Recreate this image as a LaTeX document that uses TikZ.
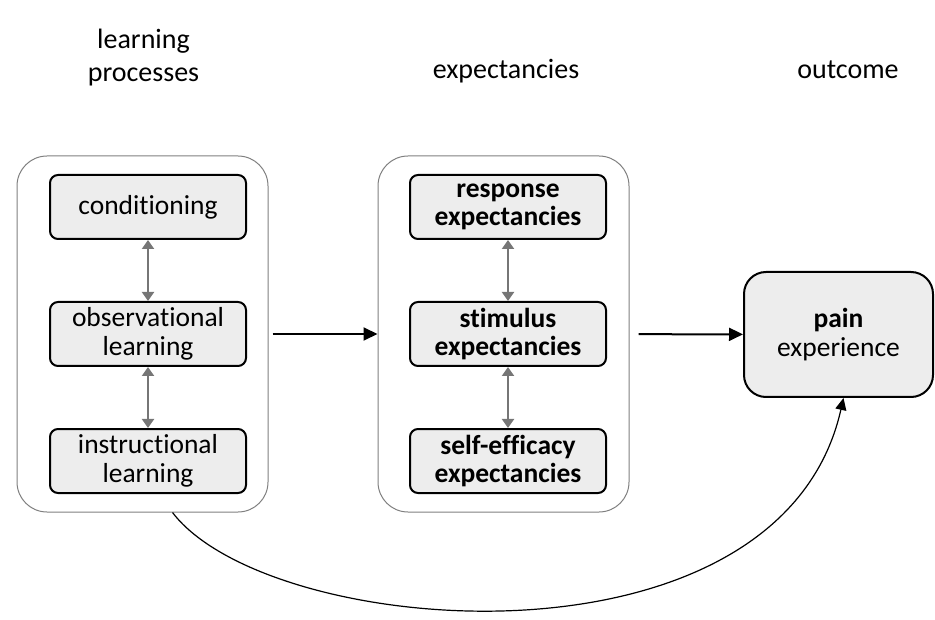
\documentclass[tikz,border=0pt]{standalone}
\usepackage{fontspec}
\setmainfont{Carlito}[Ligatures=NoCommon]
\usetikzlibrary{arrows.meta}

\definecolor{boxfill}{HTML}{EDEDED}
\definecolor{framegray}{HTML}{7F7F7F}
\definecolor{linkgray}{HTML}{767676}

\begin{document}
\begin{tikzpicture}[x=1pt,y=-1pt]
		\tikzset{
			group/.style={draw=framegray,line width=1pt,rounded corners=30pt,minimum width=251pt,minimum height=356pt},
			item/.style={draw=black,fill=boxfill,line width=2pt,rounded corners=8pt,minimum width=196pt,minimum height=64pt,inner sep=0pt,align=center,font=\fontsize{27.5}{28.5}\selectfont},
			head/.style={align=center,inner sep=0pt,font=\fontsize{28}{33}\selectfont},
			link/.style={draw=linkgray,line width=2pt,{Triangle[length=9pt,width=12pt]}-{Triangle[length=9pt,width=12pt]}},
			flow/.style={draw=black,line width=2pt,-{Triangle[length=14pt,width=13pt]}}
		}
		\useasboundingbox (0,0) rectangle (935,620);
		% column headings
		\node [head] (hlearn) at (143.5,58) {learning\\processes};
		\node [head,anchor=base] (hexp) at (506,79) {expectancies};
		\node [head,anchor=base] (hout) at (848,79) {outcome};
		% groups
		\node [group] (learn) at (142.5,334) {};
		\node [group] (expect) at (503.5,334) {};
		% learning processes
		\node [item] (cond) at (148,207) {conditioning};
		\node [item] (obs) at (148,334) {observational\\learning};
		\node [item] (instr) at (148,461) {instructional\\learning};
		% expectancies
		\node [item] (resp) at (508,207) {\textbf{response}\\\textbf{expectancies}};
		\node [item] (stim) at (508,334) {\textbf{stimulus}\\\textbf{expectancies}};
		\node [item] (selfeff) at (508,461) {\textbf{self-efficacy}\\\textbf{expectancies}};
		% outcome
		\node [item,rounded corners=22pt,minimum width=189pt,minimum height=125pt] (pain) at (838.5,334.5) {\textbf{pain}\\experience};
		% links
		\draw [link] (cond) -- (obs);
		\draw [link] (obs) -- (instr);
		\draw [link] (resp) -- (stim);
		\draw [link] (stim) -- (selfeff);
		\draw [flow,shorten <=4pt] (learn) -- (expect);
		\draw [flow,shorten <=9pt] (expect) -- (pain);
		\draw [black,line width=1.2pt,-{Triangle[length=12pt,width=11pt]}] ([xshift=30pt]learn.south) .. controls (270,640) and (780,680) .. ([xshift=5pt]pain.south);
\end{tikzpicture}
\end{document}
